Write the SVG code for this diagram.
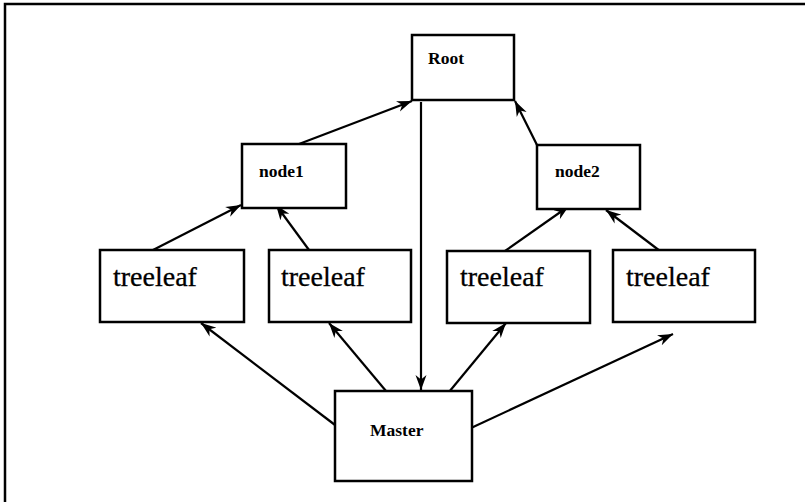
<svg xmlns="http://www.w3.org/2000/svg" width="805" height="502" viewBox="0 0 805 502">
<defs>
<style>
.box{fill:#fff;stroke:#000;stroke-width:2.5}
.edge{fill:none;stroke:#000;stroke-width:2.2}
.sm{font-family:"Liberation Serif","Times New Roman",serif;font-size:17.5px;font-weight:bold;fill:#000}
.lg{font-family:"Liberation Serif","Times New Roman",serif;font-size:28px;fill:#000;stroke:#000;stroke-width:0.3}
</style>
<marker id="ah" viewBox="0 0 16 12" refX="15" refY="6" markerWidth="16" markerHeight="12" markerUnits="userSpaceOnUse" orient="auto">
<path d="M0,0.5 L15,6 L0,11.5 L4.5,6 Z" fill="#000"/>
</marker>
</defs>
<rect width="805" height="502" fill="#fff"/>
<g id="frame">
<path d="M5,502 L5,4 L805,4" fill="none" stroke="#000" stroke-width="2.5"/>
</g>
<g id="connectors">
<line class="edge" x1="299" y1="144" x2="412" y2="101" marker-end="url(#ah)"/>
<line class="edge" x1="421" y1="102" x2="421" y2="390" marker-end="url(#ah)"/>
<line class="edge" x1="537" y1="145" x2="515" y2="101" marker-end="url(#ah)"/>
<line class="edge" x1="153" y1="250" x2="241" y2="205" marker-end="url(#ah)"/>
<line class="edge" x1="309" y1="250" x2="276" y2="205" marker-end="url(#ah)"/>
<line class="edge" x1="505" y1="251" x2="569" y2="206" marker-end="url(#ah)"/>
<line class="edge" x1="660" y1="251" x2="606" y2="210" marker-end="url(#ah)"/>
<line class="edge" x1="339" y1="428" x2="201" y2="323" marker-end="url(#ah)"/>
<line class="edge" x1="386" y1="391" x2="329" y2="323" marker-end="url(#ah)"/>
<line class="edge" x1="449" y1="392" x2="506" y2="323" marker-end="url(#ah)"/>
<line class="edge" x1="471" y1="428" x2="673" y2="334" marker-end="url(#ah)"/>
</g>
<g id="root">
<rect class="box" x="412" y="35" width="102" height="65"/>
<text class="sm" x="428" y="64">Root</text>
</g>
<g id="node1">
<rect class="box" x="242" y="144" width="104" height="64"/>
<text class="sm" x="259" y="177">node1</text>
</g>
<g id="node2">
<rect class="box" x="537" y="145" width="103" height="64"/>
<text class="sm" x="555" y="177">node2</text>
</g>
<g id="treeleaf1">
<rect class="box" x="100" y="250" width="144" height="72"/>
<text class="lg" x="113" y="286">treeleaf</text>
</g>
<g id="treeleaf2">
<rect class="box" x="269" y="250" width="142" height="72"/>
<text class="lg" x="281" y="286">treeleaf</text>
</g>
<g id="treeleaf3">
<rect class="box" x="447" y="251" width="143" height="72"/>
<text class="lg" x="460" y="286">treeleaf</text>
</g>
<g id="treeleaf4">
<rect class="box" x="613" y="250" width="142" height="72"/>
<text class="lg" x="626" y="286">treeleaf</text>
</g>
<g id="master">
<rect class="box" x="335" y="391" width="137" height="90"/>
<text class="sm" x="370" y="436">Master</text>
</g>
</svg>
